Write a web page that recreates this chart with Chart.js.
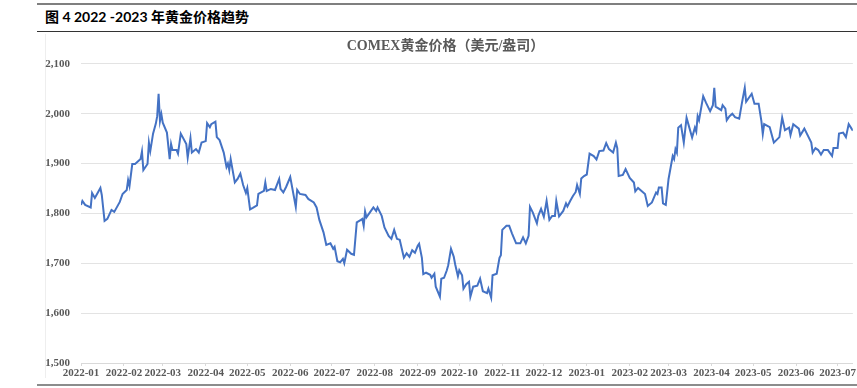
<!DOCTYPE html>
<html>
<head>
<meta charset="utf-8">
<script src="https://cdn.jsdelivr.net/npm/chart.js@4.4.1/dist/chart.umd.min.js"></script>
<style>
  html, body { margin: 0; padding: 0; background: #fff; }
  body { position: relative; width: 857px; height: 388px; overflow: hidden; }
  .rule-top { position: absolute; left: 37px; top: 3px; width: 820px; height: 2px; background: #7f7f7f; }
  .fig-title { position: absolute; left: 45px; top: 8px; font: bold 14px Lato, "Noto Sans CJK SC", sans-serif; line-height: 18px; color: #000; white-space: nowrap; }
  .rule-title { position: absolute; left: 37px; top: 31px; width: 820px; height: 1px; background: #333; }
  .frame { position: absolute; left: 45px; top: 34px; width: 1px; height: 344px; background: #eeeeee; }
  .rule-bottom { position: absolute; left: 37px; top: 384px; width: 820px; height: 2px; background: #8c8c8c; }
  #chart { position: absolute; left: 37px; top: 32px; }
</style>
</head>
<body>
<div class="rule-top"></div>
<div class="fig-title">图 4 2022 -2023 年黄金价格趋势</div>
<div class="rule-title"></div>
<div class="frame"></div>
<div class="rule-bottom"></div>
<canvas id="chart" width="820" height="352"></canvas>
<script>
// monthly axis labels (ticks sit on the 3rd of each month)
const monthLabels = ['2022-01', '2022-02', '2022-03', '2022-04', '2022-05', '2022-06', '2022-07',
    '2022-08', '2022-09', '2022-10', '2022-11', '2022-12', '2023-01', '2023-02', '2023-03',
    '2023-04', '2023-05', '2023-06', '2023-07'];

// COMEX gold price, USD/oz
const dates = [
    '2022-01-03', '2022-01-04', '2022-01-06', '2022-01-10', '2022-01-11', '2022-01-13', '2022-01-17', '2022-01-18',
    '2022-01-20', '2022-01-22', '2022-01-25', '2022-01-27', '2022-01-31',
    '2022-02-02', '2022-02-05', '2022-02-06', '2022-02-07', '2022-02-09', '2022-02-11', '2022-02-15', '2022-02-16',
    '2022-02-17', '2022-02-20', '2022-02-21', '2022-02-22', '2022-02-24', '2022-02-26', '2022-02-27', '2022-02-28',
    '2022-03-01', '2022-03-02', '2022-03-03', '2022-03-06', '2022-03-08', '2022-03-09', '2022-03-10', '2022-03-13',
    '2022-03-14', '2022-03-16', '2022-03-20', '2022-03-21', '2022-03-23', '2022-03-24', '2022-03-27', '2022-03-29',
    '2022-03-31',
    '2022-04-03', '2022-04-04', '2022-04-06', '2022-04-07', '2022-04-10', '2022-04-11', '2022-04-13', '2022-04-16',
    '2022-04-18', '2022-04-19', '2022-04-20', '2022-04-21', '2022-04-24', '2022-04-26', '2022-04-28', '2022-04-30',
    '2022-05-02', '2022-05-03', '2022-05-05', '2022-05-07', '2022-05-10', '2022-05-11', '2022-05-15', '2022-05-16',
    '2022-05-17', '2022-05-20', '2022-05-23', '2022-05-26', '2022-05-27', '2022-05-29', '2022-05-31',
    '2022-06-03', '2022-06-07', '2022-06-08', '2022-06-10', '2022-06-14', '2022-06-16', '2022-06-20', '2022-06-22',
    '2022-06-24', '2022-06-27', '2022-06-29',
    '2022-07-02', '2022-07-04', '2022-07-05', '2022-07-07', '2022-07-09', '2022-07-11', '2022-07-12', '2022-07-14',
    '2022-07-17', '2022-07-19', '2022-07-21', '2022-07-24', '2022-07-25', '2022-07-26', '2022-07-27', '2022-07-28',
    '2022-07-31',
    '2022-08-02', '2022-08-04', '2022-08-05', '2022-08-08', '2022-08-10', '2022-08-13', '2022-08-15', '2022-08-17',
    '2022-08-19', '2022-08-21', '2022-08-24', '2022-08-26', '2022-08-28', '2022-08-30',
    '2022-09-01', '2022-09-03', '2022-09-04', '2022-09-06', '2022-09-07', '2022-09-09', '2022-09-12', '2022-09-13',
    '2022-09-15', '2022-09-16', '2022-09-19', '2022-09-20', '2022-09-22', '2022-09-24', '2022-09-25', '2022-09-27',
    '2022-09-29', '2022-09-30',
    '2022-10-02', '2022-10-03', '2022-10-05', '2022-10-06', '2022-10-08', '2022-10-10', '2022-10-11', '2022-10-13',
    '2022-10-16', '2022-10-18', '2022-10-20', '2022-10-23', '2022-10-24', '2022-10-26', '2022-10-27', '2022-10-30',
    '2022-11-01', '2022-11-02', '2022-11-03', '2022-11-06', '2022-11-08', '2022-11-10', '2022-11-13', '2022-11-16',
    '2022-11-18', '2022-11-20', '2022-11-22', '2022-11-23', '2022-11-25', '2022-11-28', '2022-11-29',
    '2022-12-01', '2022-12-03', '2022-12-05', '2022-12-07', '2022-12-09', '2022-12-11', '2022-12-12', '2022-12-14',
    '2022-12-17', '2022-12-19', '2022-12-20', '2022-12-22', '2022-12-24', '2022-12-26', '2022-12-27', '2022-12-29',
    '2022-12-30',
    '2023-01-01', '2023-01-03', '2023-01-05', '2023-01-08', '2023-01-10', '2023-01-12', '2023-01-15', '2023-01-17',
    '2023-01-19', '2023-01-22', '2023-01-24', '2023-01-25', '2023-01-26', '2023-01-29', '2023-01-31',
    '2023-02-03', '2023-02-06', '2023-02-07', '2023-02-09', '2023-02-14', '2023-02-16', '2023-02-19', '2023-02-22',
    '2023-02-23', '2023-02-24', '2023-02-26', '2023-02-27',
    '2023-03-01', '2023-03-03', '2023-03-06', '2023-03-07', '2023-03-08', '2023-03-09', '2023-03-10', '2023-03-12',
    '2023-03-14', '2023-03-16', '2023-03-18', '2023-03-20', '2023-03-22', '2023-03-23', '2023-03-24', '2023-03-25',
    '2023-03-28', '2023-03-30',
    '2023-04-02', '2023-04-04', '2023-04-05', '2023-04-06', '2023-04-10', '2023-04-11', '2023-04-13', '2023-04-14',
    '2023-04-16', '2023-04-18', '2023-04-20', '2023-04-23', '2023-04-25', '2023-04-27', '2023-04-28',
    '2023-05-02', '2023-05-04', '2023-05-07', '2023-05-09', '2023-05-10', '2023-05-11', '2023-05-15', '2023-05-18',
    '2023-05-22', '2023-05-24', '2023-05-26', '2023-05-29', '2023-05-30',
    '2023-06-01', '2023-06-05', '2023-06-06', '2023-06-09', '2023-06-14', '2023-06-15', '2023-06-17', '2023-06-19',
    '2023-06-21', '2023-06-23', '2023-06-26', '2023-06-29', '2023-06-30',
    '2023-07-03', '2023-07-04', '2023-07-07', '2023-07-09', '2023-07-11', '2023-07-14'
];

const prices = [
    1817, 1825, 1817, 1812, 1841, 1831, 1851, 1837,
    1785, 1789, 1807, 1803, 1823,
    1839, 1847, 1867, 1855, 1899, 1899, 1909, 1924,
    1887, 1899, 1942, 1925, 1960, 1980, 1995, 2040,
    1985, 1999, 1982, 1962, 1909, 1939, 1927, 1927,
    1920, 1960, 1939, 1912, 1951, 1922, 1929, 1922,
    1942,
    1945, 1981, 1973, 1979, 1984, 1953, 1947, 1922,
    1893, 1900, 1887, 1909, 1862, 1869, 1880, 1857,
    1841, 1851, 1808, 1811, 1816, 1839, 1845, 1862,
    1845, 1849, 1847, 1869, 1849, 1842, 1853,
    1873, 1813, 1847, 1839, 1837, 1829, 1822, 1812,
    1787, 1762, 1737,
    1740, 1729, 1733, 1704, 1702, 1709, 1700, 1727,
    1719, 1717, 1782, 1787, 1789, 1775, 1804, 1792,
    1804,
    1812, 1805, 1812, 1795, 1772, 1755, 1749, 1767,
    1749, 1747, 1711, 1720, 1713, 1726,
    1721, 1735, 1739, 1711, 1678, 1681, 1677, 1671,
    1679, 1653, 1633, 1669, 1671, 1686, 1696, 1729,
    1713, 1698,
    1674, 1686, 1676, 1649, 1658, 1663, 1633, 1653,
    1655, 1669, 1644, 1640, 1649, 1631, 1676, 1679,
    1711, 1716, 1767, 1775, 1775, 1760, 1740, 1740,
    1752, 1740, 1755, 1813, 1802, 1780, 1795,
    1809, 1793, 1825, 1787, 1795, 1795, 1825, 1794,
    1805, 1820, 1814, 1825, 1835, 1843, 1857, 1839,
    1870,
    1875, 1878, 1920, 1915, 1908, 1925, 1926, 1941,
    1929, 1922, 1942, 1931, 1875, 1877, 1889,
    1871, 1862, 1844, 1851, 1839, 1815, 1822, 1842,
    1839, 1852, 1852, 1820,
    1817, 1869, 1915, 1909, 1929, 1922, 1972, 1977,
    1942, 1992, 1972, 1952, 1972, 1964, 1995, 1987,
    2035, 2022,
    2005, 2017, 2052, 2014, 2007, 2017, 2010, 1987,
    1995, 2000, 1993, 1990, 2022, 2052, 2024,
    2040, 2020, 2020, 1985, 1959, 1979, 1973, 1942,
    1953, 1992, 1967, 1972, 1957,
    1979, 1970, 1956, 1970, 1942, 1922, 1931, 1927,
    1918, 1927, 1927, 1915, 1931,
    1931, 1960, 1962, 1953, 1979, 1966
];

const yMin = 1500;
const yMax = 2100;
const xStart = '2022-01-03';
const xEnd = '2023-07-14';

const DAY = 86400000;
const origin = Date.UTC(2022, 0, 1);
function dayOf(s) {
    const p = s.split('-').map(Number);
    return (Date.UTC(p[0], p[1] - 1, p[2] || 1) - origin) / DAY;
}

const tickDays = monthLabels.map(m => dayOf(m + '-03'));
const points = dates.map((d, i) => ({ x: dayOf(d), y: prices[i] }));

const axisFont = { family: "'Liberation Serif', 'Times New Roman', serif", size: 11, weight: 'bold' };
const gridColor = '#e3e3e3';

const ctx = document.getElementById('chart').getContext('2d');
new Chart(ctx, {
    type: 'line',
    data: {
        datasets: [{
            label: 'COMEX黄金价格',
            data: points,
            borderColor: '#4472C4',
            borderWidth: 2,
            pointRadius: 0,
            fill: false,
            tension: 0
        }]
    },
    options: {
        responsive: false,
        animation: false,
        devicePixelRatio: 1,
        layout: { padding: { left: 0, right: 3, top: 0, bottom: 0 } },
        scales: {
            x: {
                type: 'linear',
                min: dayOf(xStart),
                max: dayOf(xEnd),
                afterBuildTicks: scale => { scale.ticks = tickDays.map(v => ({ value: v })); },
                afterFit: scale => { scale.height = 21; },
                grid: { drawOnChartArea: false, drawTicks: true, tickLength: 3, color: '#d9d9d9' },
                border: { display: true, color: '#d9d9d9' },
                ticks: {
                    autoSkip: false,
                    maxRotation: 0,
                    minRotation: 0,
                    padding: 1,
                    color: '#595959',
                    font: axisFont,
                    callback: (value, index) => monthLabels[index]
                }
            },
            y: {
                min: yMin,
                max: yMax,
                afterFit: scale => { scale.width = 44; },
                grid: { color: gridColor, drawTicks: false },
                border: { display: false },
                ticks: {
                    stepSize: 100,
                    padding: 11,
                    color: '#595959',
                    font: axisFont,
                    callback: value => value.toLocaleString('en-US')
                }
            }
        },
        plugins: {
            legend: { display: false },
            tooltip: { enabled: false },
            title: {
                display: true,
                text: 'COMEX黄金价格（美元/盎司）',
                color: '#595959',
                font: { family: "'Liberation Serif', 'Noto Sans CJK SC', serif", size: 14, weight: 'bold' },
                padding: { top: 6, bottom: 9 }
            }
        }
    }
});
</script>
</body>
</html>
